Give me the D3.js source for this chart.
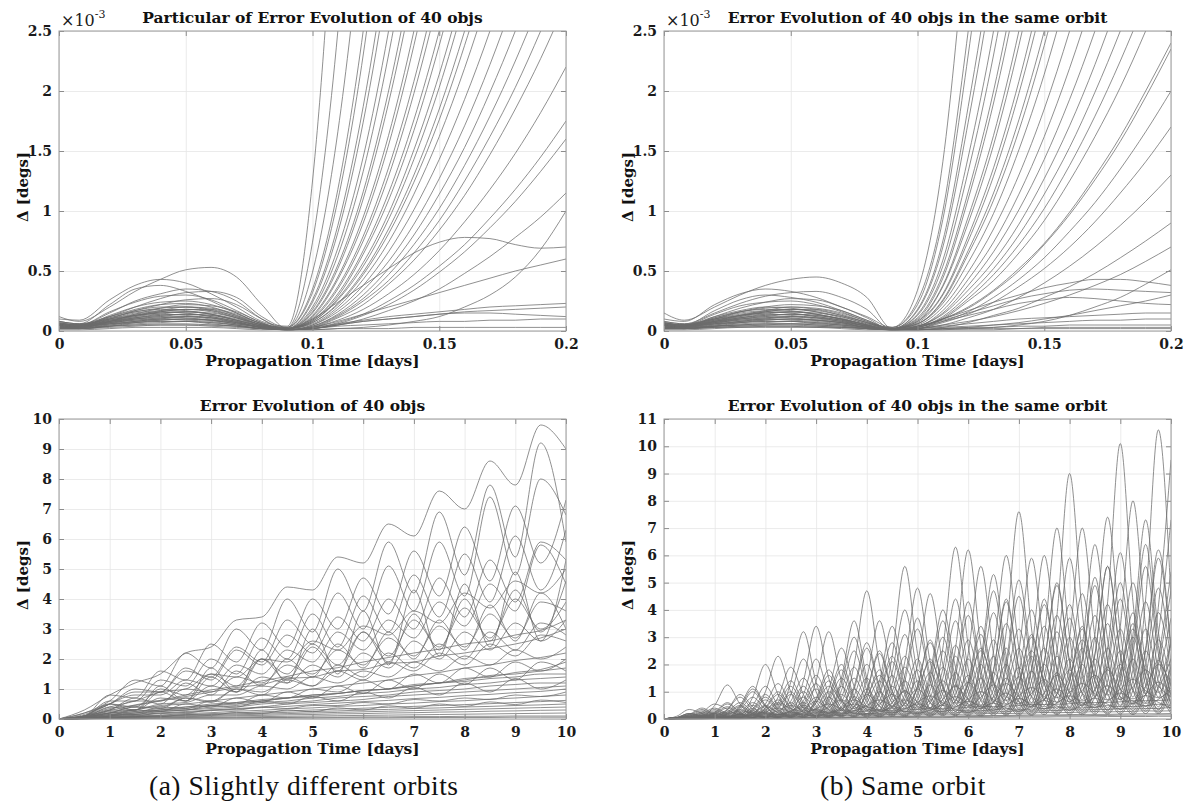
<!DOCTYPE html>
<html><head><meta charset="utf-8">
<script src="https://cdn.jsdelivr.net/npm/d3@7"></script>
<style>body{margin:0;background:#fff}svg{display:block}</style>
</head><body>
<svg id="chart" width="1189" height="811"></svg>
<script>
// ---------- time grids (days) ----------
const topDays = [0,0.008,0.02,0.03,0.04,0.05,0.06,0.07,0.08,0.09,0.1,0.11,0.12,0.13,0.14,0.15,0.16,0.17,0.18,0.19,0.2];
const blDays = [0,0.5,1,1.5,2,2.5,3,3.5,4,4.5,5,5.5,6,6.5,7,7.5,8,8.5,9,9.5,10];
const brDays = [0,0.25,0.5,0.75,1,1.25,1.5,1.75,2,2.25,2.5,2.75,3,3.25,3.5,3.75,4,4.25,4.5,4.75,5,5.25,5.5,5.75,6,6.25,6.5,6.75,7,7.25,7.5,7.75,8,8.25,8.5,8.75,9,9.25,9.5,9.75,10];

// ---------- tick values / labels ----------
const topXTicks = [0,0.05,0.1,0.15,0.2];
const topXLabels = ['0','0.05','0.1','0.15','0.2'];
const topYTicks = [0,0.5,1,1.5,2,2.5];
const topYLabels = ['0','0.5','1','1.5','2','2.5'];
const botXTicks = [0,1,2,3,4,5,6,7,8,9,10];
const botXLabels = ['0','1','2','3','4','5','6','7','8','9','10'];
const blYTicks = [0,1,2,3,4,5,6,7,8,9,10];
const blYLabels = ['0','1','2','3','4','5','6','7','8','9','10'];
const brYTicks = [0,1,2,3,4,5,6,7,8,9,10,11];
const brYLabels = ['0','1','2','3','4','5','6','7','8','9','10','11'];

// ---------- top-left: error (x1e-3 deg), t = 0 .. 0.08 ----------
const tlEarly = [
[0.12,0.08,0.2,0.33,0.43,0.51,0.53,0.45,0.22],
[0.1,0.09,0.26,0.38,0.43,0.4,0.31,0.2,0.08],
[0.08,0.06,0.22,0.35,0.38,0.33,0.25,0.15,0.06],
[0.06,0.05,0.15,0.25,0.31,0.35,0.33,0.25,0.1],
[0.05,0.04,0.12,0.2,0.27,0.32,0.33,0.28,0.12],
[0.07,0.05,0.16,0.24,0.29,0.3,0.26,0.17,0.07],
[0.04,0.03,0.1,0.17,0.22,0.26,0.27,0.22,0.1],
[0.05,0.04,0.13,0.2,0.24,0.25,0.22,0.15,0.06],
[0.06,0.05,0.12,0.18,0.22,0.23,0.2,0.13,0.05],
[0.03,0.03,0.08,0.14,0.19,0.22,0.21,0.16,0.07],
[0.05,0.04,0.11,0.16,0.19,0.2,0.18,0.12,0.05],
[0.08,0.06,0.12,0.17,0.2,0.2,0.17,0.11,0.04],
[0.03,0.03,0.08,0.13,0.17,0.2,0.19,0.14,0.06],
[0.06,0.05,0.1,0.15,0.17,0.18,0.16,0.11,0.05],
[0.04,0.04,0.09,0.13,0.16,0.18,0.17,0.12,0.05],
[0.07,0.05,0.11,0.16,0.18,0.17,0.14,0.09,0.04],
[0.05,0.04,0.08,0.12,0.16,0.18,0.18,0.13,0.06],
[0.05,0.04,0.09,0.13,0.15,0.16,0.14,0.1,0.04],
[0.06,0.05,0.1,0.14,0.16,0.15,0.12,0.08,0.03],
[0.03,0.03,0.07,0.11,0.14,0.16,0.15,0.11,0.05],
[0.08,0.06,0.1,0.13,0.15,0.16,0.14,0.09,0.04],
[0.04,0.04,0.08,0.11,0.13,0.14,0.12,0.08,0.03],
[0.06,0.05,0.09,0.12,0.14,0.13,0.11,0.07,0.03],
[0.03,0.02,0.06,0.1,0.12,0.14,0.13,0.09,0.04],
[0.05,0.04,0.08,0.11,0.13,0.14,0.13,0.09,0.04],
[0.04,0.03,0.07,0.1,0.11,0.12,0.11,0.07,0.03],
[0.06,0.05,0.08,0.1,0.12,0.11,0.09,0.06,0.03],
[0.02,0.02,0.05,0.08,0.1,0.12,0.11,0.08,0.03],
[0.05,0.04,0.07,0.09,0.11,0.12,0.1,0.07,0.03],
[0.04,0.03,0.06,0.08,0.1,0.1,0.09,0.06,0.03],
[0.06,0.05,0.07,0.09,0.1,0.09,0.08,0.05,0.02],
[0.02,0.02,0.04,0.07,0.09,0.1,0.09,0.07,0.03],
[0.05,0.04,0.06,0.08,0.09,0.1,0.09,0.06,0.03],
[0.03,0.03,0.05,0.07,0.08,0.08,0.07,0.05,0.02],
[0.05,0.04,0.06,0.07,0.08,0.08,0.06,0.04,0.02],
[0.02,0.02,0.04,0.06,0.07,0.08,0.07,0.05,0.02],
[0.03,0.02,0.04,0.05,0.05,0.05,0.04,0.03,0.02],
[0.02,0.02,0.03,0.04,0.05,0.05,0.05,0.04,0.02],
[0.01,0.01,0.02,0.03,0.03,0.03,0.03,0.02,0.01],
[0.04,0.03,0.04,0.05,0.06,0.06,0.05,0.04,0.02]
];
// ---------- top-left: t = 0.09 .. 0.2 ----------
const tlLate = [
[0.02,0.16,0.55,1.16,2.0,3.06,4.35,5.9,7.6,9.6,15,15],
[0.04,1.25,4.2,8.8,15,15,15,15,15,15,15,15],
[0.02,0.09,0.31,0.67,1.15,1.76,2.5,3.37,4.4,5.5,6.8,8.2],
[0.01,0.03,0.09,0.18,0.31,0.47,0.67,0.91,1.18,1.48,1.82,2.2],
[0.03,0.35,1.18,2.5,4.3,6.6,9.4,15,15,15,15,15],
[0.02,0.1,0.24,0.38,0.52,0.65,0.74,0.78,0.77,0.72,0.69,0.7],
[0.02,0.07,0.23,0.49,0.85,1.3,1.85,2.5,3.24,4.1,5.0,6.0],
[0.03,0.74,2.5,5.3,9.1,15,15,15,15,15,15,15],
[0.02,0.13,0.45,0.95,1.63,2.5,3.55,4.8,6.2,7.8,9.6,15],
[0.01,0.03,0.06,0.09,0.12,0.14,0.16,0.18,0.2,0.21,0.22,0.23],
[0.02,0.26,0.88,1.87,3.2,4.9,7.0,9.5,15,15,15,15],
[0.01,0.05,0.18,0.38,0.66,1.01,1.43,1.93,2.5,3.15,3.87,4.66],
[0.01,0.02,0.07,0.14,0.25,0.38,0.54,0.72,0.94,1.18,1.45,1.75],
[0.03,0.49,1.66,3.5,6.0,9.3,15,15,15,15,15,15],
[0.02,0.11,0.37,0.79,1.36,2.08,2.96,4.0,5.2,6.5,8.0,9.6],
[0.02,0.2,0.69,1.45,2.5,3.8,5.4,7.3,9.5,15,15,15],
[0.01,0.02,0.05,0.08,0.1,0.12,0.14,0.16,0.17,0.18,0.19,0.2],
[0.01,0.04,0.14,0.3,0.52,0.8,1.14,1.53,1.99,2.5,3.07,3.7],
[0.02,0.08,0.27,0.57,0.98,1.51,2.14,2.89,3.75,4.7,5.8,7.0],
[0.01,0.02,0.06,0.13,0.22,0.34,0.49,0.66,0.86,1.08,1.33,1.6],
[0.03,0.32,1.09,2.3,3.96,6.1,8.6,15,15,15,15,15],
[0.02,0.06,0.2,0.43,0.74,1.14,1.62,2.19,2.84,3.57,4.39,5.3],
[0.01,0.03,0.08,0.14,0.2,0.26,0.32,0.38,0.44,0.5,0.55,0.6],
[0.01,0.05,0.16,0.34,0.58,0.89,1.27,1.71,2.22,2.8,3.44,4.14],
[0.02,0.24,0.82,1.74,2.98,4.56,6.5,8.8,15,15,15,15],
[0.01,0.04,0.13,0.27,0.47,0.72,1.02,1.38,1.79,2.25,2.76,3.33],
[0.01,0.02,0.05,0.1,0.17,0.25,0.35,0.48,0.62,0.78,0.95,1.15],
[0.02,0.18,0.63,1.33,2.3,3.5,5.0,6.7,8.7,15,15,15],
[0.01,0.035,0.12,0.25,0.42,0.65,0.92,1.25,1.62,2.03,2.5,3.01],
[0.01,0.02,0.05,0.08,0.1,0.12,0.14,0.15,0.15,0.14,0.13,0.12],
[0.02,0.15,0.52,1.1,1.9,2.9,4.13,5.6,7.2,9.1,15,15],
[0.01,0.01,0.02,0.03,0.05,0.08,0.12,0.2,0.3,0.45,0.68,1.0],
[0.02,0.12,0.43,0.9,1.55,2.38,3.37,4.56,5.9,7.4,9.1,15],
[0.01,0.03,0.11,0.22,0.39,0.59,0.84,1.13,1.47,1.85,2.27,2.74],
[0.01,0.02,0.04,0.05,0.06,0.07,0.08,0.08,0.09,0.09,0.1,0.1],
[0.02,0.1,0.35,0.75,1.29,1.98,2.81,3.8,4.94,6.2,7.6,9.1],
[0.02,0.09,0.29,0.64,1.09,1.67,2.38,3.2,4.18,5.2,6.5,7.8],
[0.01,0.01,0.02,0.02,0.02,0.03,0.03,0.03,0.03,0.03,0.03,0.03],
[0.02,0.08,0.26,0.54,0.93,1.43,2.03,2.75,3.56,4.47,5.5,6.65],
[0.02,0.07,0.22,0.47,0.81,1.24,1.76,2.38,3.08,3.9,4.75,5.7]
];

// ---------- top-right: t = 0 .. 0.08 ----------
const trEarly = [
[0.15,0.09,0.2,0.3,0.38,0.43,0.45,0.4,0.28],
[0.1,0.08,0.22,0.31,0.35,0.33,0.28,0.2,0.12],
[0.08,0.06,0.15,0.23,0.29,0.32,0.33,0.28,0.18],
[0.07,0.05,0.17,0.26,0.3,0.28,0.24,0.17,0.09],
[0.05,0.04,0.12,0.19,0.24,0.27,0.26,0.2,0.11],
[0.06,0.05,0.14,0.21,0.24,0.25,0.22,0.16,0.08],
[0.04,0.04,0.1,0.16,0.2,0.22,0.21,0.17,0.09],
[0.05,0.04,0.11,0.16,0.19,0.2,0.18,0.13,0.07],
[0.07,0.05,0.12,0.17,0.2,0.19,0.16,0.11,0.05],
[0.03,0.03,0.08,0.13,0.17,0.2,0.19,0.15,0.08],
[0.06,0.05,0.1,0.15,0.17,0.18,0.16,0.12,0.06],
[0.04,0.04,0.09,0.13,0.16,0.18,0.17,0.13,0.07],
[0.07,0.05,0.11,0.16,0.18,0.17,0.14,0.1,0.05],
[0.05,0.04,0.08,0.12,0.16,0.18,0.18,0.14,0.07],
[0.05,0.04,0.09,0.13,0.15,0.16,0.14,0.1,0.05],
[0.06,0.05,0.1,0.14,0.16,0.15,0.12,0.09,0.04],
[0.03,0.03,0.07,0.11,0.14,0.16,0.15,0.12,0.06],
[0.08,0.06,0.1,0.13,0.15,0.16,0.14,0.1,0.05],
[0.04,0.04,0.08,0.11,0.13,0.14,0.12,0.09,0.04],
[0.06,0.05,0.09,0.12,0.14,0.13,0.11,0.08,0.04],
[0.03,0.02,0.06,0.1,0.12,0.14,0.13,0.1,0.05],
[0.05,0.04,0.08,0.11,0.13,0.14,0.13,0.1,0.05],
[0.04,0.03,0.07,0.1,0.11,0.12,0.11,0.08,0.04],
[0.06,0.05,0.08,0.1,0.12,0.11,0.09,0.07,0.03],
[0.02,0.02,0.05,0.08,0.1,0.12,0.11,0.09,0.04],
[0.05,0.04,0.07,0.09,0.11,0.12,0.1,0.08,0.04],
[0.04,0.03,0.06,0.08,0.1,0.1,0.09,0.07,0.03],
[0.06,0.05,0.07,0.09,0.1,0.09,0.08,0.06,0.03],
[0.02,0.02,0.04,0.07,0.09,0.1,0.09,0.07,0.04],
[0.05,0.04,0.06,0.08,0.09,0.1,0.09,0.07,0.03],
[0.03,0.03,0.05,0.07,0.08,0.08,0.07,0.05,0.03],
[0.05,0.04,0.06,0.07,0.08,0.08,0.06,0.05,0.02],
[0.02,0.02,0.04,0.06,0.07,0.08,0.07,0.06,0.03],
[0.03,0.02,0.04,0.05,0.06,0.06,0.05,0.04,0.02],
[0.04,0.03,0.04,0.05,0.06,0.06,0.05,0.04,0.02],
[0.02,0.02,0.03,0.04,0.05,0.06,0.06,0.05,0.03],
[0.02,0.02,0.03,0.04,0.04,0.04,0.04,0.03,0.02],
[0.03,0.02,0.03,0.03,0.04,0.04,0.03,0.03,0.02],
[0.04,0.03,0.04,0.05,0.05,0.05,0.04,0.03,0.02],
[0.01,0.01,0.02,0.03,0.03,0.03,0.03,0.02,0.01]
];
// ---------- top-right: t = 0.09 .. 0.2 ----------
const trLate = [
[0.02,0.09,0.38,0.95,1.63,2.5,3.55,4.8,6.2,7.8,9.6,15],
[0.03,0.25,1.0,2.5,4.3,6.6,9.4,15,15,15,15,15],
[0.01,0.04,0.1,0.17,0.24,0.3,0.36,0.4,0.43,0.43,0.41,0.38],
[0.02,0.06,0.23,0.57,0.98,1.51,2.14,2.89,3.75,4.7,5.8,7.0],
[0.01,0.03,0.1,0.2,0.34,0.52,0.73,0.99,1.29,1.62,2.0,2.4],
[0.02,0.14,0.59,1.45,2.5,3.8,5.4,7.3,9.5,15,15,15],
[0.02,0.04,0.17,0.43,0.74,1.14,1.62,2.19,2.84,3.57,4.39,5.3],
[0.03,0.34,1.41,3.5,6.0,9.3,15,15,15,15,15,15],
[0.01,0.01,0.02,0.02,0.03,0.05,0.08,0.13,0.2,0.28,0.39,0.51],
[0.02,0.08,0.31,0.79,1.36,2.08,2.96,4.0,5.2,6.5,8.0,9.6],
[0.02,0.18,0.75,1.87,3.2,4.9,7.0,9.5,15,15,15,15],
[0.01,0.02,0.07,0.14,0.24,0.37,0.52,0.7,0.91,1.15,1.41,1.7],
[0.01,0.04,0.14,0.34,0.58,0.89,1.27,1.71,2.22,2.8,3.44,4.14],
[0.02,0.11,0.47,1.16,2.0,3.06,4.35,5.9,7.6,9.6,15,15],
[0.01,0.04,0.09,0.15,0.21,0.27,0.31,0.34,0.35,0.34,0.33,0.32],
[0.02,0.06,0.26,0.67,1.15,1.76,2.5,3.37,4.4,5.5,6.8,8.2],
[0.03,0.22,0.93,2.3,3.96,6.1,8.6,15,15,15,15,15],
[0.01,0.02,0.05,0.11,0.18,0.28,0.4,0.54,0.7,0.88,1.08,1.3],
[0.02,0.05,0.2,0.49,0.85,1.3,1.85,2.5,3.24,4.1,5.0,6.0],
[0.01,0.03,0.11,0.27,0.47,0.72,1.02,1.38,1.79,2.25,2.76,3.33],
[0.01,0.02,0.04,0.06,0.08,0.1,0.11,0.12,0.13,0.14,0.15,0.15],
[0.02,0.13,0.54,1.33,2.3,3.5,5.0,6.7,8.7,15,15,15],
[0.01,0.03,0.1,0.19,0.33,0.5,0.72,0.97,1.26,1.58,1.95,2.35],
[0.02,0.08,0.37,0.9,1.55,2.38,3.37,4.56,5.9,7.4,9.1,15],
[0.01,0.03,0.08,0.13,0.18,0.23,0.26,0.28,0.27,0.25,0.23,0.22],
[0.01,0.04,0.15,0.38,0.66,1.01,1.43,1.93,2.5,3.15,3.87,4.66],
[0.02,0.17,0.7,1.74,2.98,4.56,6.5,8.8,15,15,15,15],
[0.01,0.01,0.03,0.07,0.13,0.19,0.28,0.37,0.48,0.61,0.75,0.9],
[0.01,0.03,0.12,0.3,0.52,0.8,1.14,1.53,1.99,2.5,3.07,3.7],
[0.02,0.1,0.44,1.1,1.9,2.9,4.13,5.6,7.2,9.1,15,15],
[0.01,0.02,0.03,0.04,0.05,0.06,0.07,0.08,0.09,0.09,0.1,0.1],
[0.01,0.02,0.08,0.16,0.28,0.43,0.61,0.83,1.07,1.35,1.66,2.0],
[0.02,0.07,0.3,0.75,1.29,1.98,2.81,3.8,4.94,6.2,7.6,9.1],
[0.01,0.02,0.1,0.25,0.42,0.65,0.92,1.25,1.62,2.03,2.5,3.01],
[0.01,0.01,0.02,0.03,0.03,0.04,0.04,0.05,0.05,0.05,0.05,0.05],
[0.01,0.02,0.05,0.08,0.12,0.17,0.23,0.3,0.38,0.47,0.58,0.7],
[0.02,0.06,0.25,0.64,1.09,1.67,2.38,3.2,4.18,5.2,6.5,7.8],
[0.01,0.01,0.01,0.02,0.02,0.02,0.03,0.03,0.03,0.03,0.03,0.03],
[0.01,0.01,0.02,0.03,0.05,0.07,0.1,0.13,0.17,0.21,0.25,0.3],
[0.01,0.01,0.01,0.01,0.01,0.02,0.02,0.02,0.02,0.02,0.02,0.02]
];

// ---------- bottom-left: error (deg) at blDays ----------
const blLines = [
[0,0.3,0.8,1.2,1.5,2.2,2.4,3.3,3.4,4.4,4.3,5.4,5.2,6.5,6.1,7.6,7.0,8.6,7.8,9.8,9.0],
[0,0.2,0.6,1.3,1.1,2.2,1.7,3.0,2.3,4.0,2.9,5.0,3.6,5.9,4.2,6.9,4.8,7.8,5.4,9.2,5.9],
[0,0.1,0.8,0.7,1.6,1.3,2.5,1.9,3.2,2.4,4.0,3.0,4.7,3.5,5.6,4.1,6.4,4.6,7.1,5.2,7.3],
[0,0.15,0.5,0.9,0.9,1.6,1.4,2.4,1.9,3.3,2.5,4.2,3.0,5.1,3.6,5.9,4.1,7.4,4.8,8.0,6.8],
[0,0.1,0.6,0.6,1.3,1.1,2.0,1.5,2.7,2.0,3.5,2.4,4.1,2.9,4.8,3.4,5.5,3.9,6.1,4.3,6.3],
[0,0.2,0.5,1.0,0.9,1.7,1.3,2.3,1.8,2.8,2.2,3.4,2.6,4.0,3.0,4.7,3.4,5.3,3.9,5.9,5.3],
[0,0.1,0.4,0.6,0.9,1.0,1.5,1.4,2.0,1.9,2.6,2.3,3.1,2.8,3.6,3.2,4.2,3.7,4.6,4.2,5.0],
[0,0.1,0.5,0.8,0.8,1.3,1.1,1.8,1.5,2.3,1.9,2.9,2.3,3.3,2.7,3.9,3.1,4.5,3.6,5.8,4.5],
[0,0.08,0.28,0.47,0.62,0.8,0.97,1.1,1.27,1.42,1.6,1.71,1.9,2.05,2.2,2.33,2.5,2.6,2.8,2.95,3.3],
[0,0.1,0.5,0.4,1.0,0.8,1.5,1.1,2.0,1.5,2.5,1.8,2.9,2.1,3.3,2.4,3.7,2.7,4.0,3.0,3.9],
[0,0.1,0.3,0.6,0.6,1.0,0.9,1.4,1.2,1.8,1.5,2.3,1.8,2.7,2.1,3.1,2.4,3.5,2.7,3.9,3.6],
[0,0.05,0.3,0.3,0.7,0.6,1.1,0.9,1.4,1.2,1.8,1.4,2.2,1.7,2.6,2.0,2.9,2.3,3.2,2.6,3.3],
[0,0.1,0.35,0.45,0.6,0.75,0.9,1.05,1.15,1.35,1.4,1.6,1.65,1.85,1.9,2.1,2.2,2.35,2.5,2.7,3.0],
[0,0.05,0.2,0.4,0.4,0.7,0.6,1.0,0.9,1.3,1.1,1.6,1.3,1.9,1.6,2.2,1.8,2.5,2.1,2.8,2.6],
[0,0.05,0.25,0.3,0.5,0.55,0.8,0.8,1.1,1.0,1.4,1.2,1.6,1.4,1.9,1.6,2.1,1.8,2.3,2.0,2.4],
[0,0.08,0.2,0.3,0.45,0.5,0.6,0.7,0.8,0.9,1.0,1.1,1.2,1.3,1.45,1.55,1.7,1.8,1.95,2.05,2.2],
[0,0.05,0.2,0.2,0.4,0.35,0.6,0.5,0.8,0.7,1.0,0.9,1.3,1.0,1.5,1.2,1.7,1.4,1.9,1.6,2.0],
[0,0.05,0.15,0.25,0.3,0.4,0.45,0.55,0.6,0.7,0.75,0.85,0.95,1.0,1.15,1.2,1.35,1.4,1.55,1.65,1.9],
[0,0.04,0.15,0.2,0.3,0.35,0.45,0.5,0.6,0.7,0.8,0.85,0.95,1.0,1.1,1.2,1.3,1.45,1.5,1.6,1.7],
[0,0.05,0.2,0.25,0.35,0.4,0.5,0.55,0.65,0.7,0.8,0.85,0.95,1.0,1.1,1.2,1.25,1.35,1.4,1.5,1.5],
[0,0.03,0.1,0.2,0.25,0.3,0.4,0.45,0.55,0.6,0.7,0.75,0.85,0.9,1.0,1.05,1.15,1.2,1.3,1.35,1.4],
[0,0.03,0.12,0.15,0.25,0.3,0.35,0.4,0.5,0.55,0.6,0.7,0.75,0.8,0.9,0.95,1.0,1.1,1.15,1.2,1.2],
[0,0.02,0.1,0.15,0.2,0.25,0.3,0.35,0.4,0.5,0.55,0.6,0.65,0.75,0.8,0.85,0.9,0.95,1.0,1.05,1.1],
[0,0.02,0.08,0.12,0.18,0.22,0.28,0.33,0.38,0.42,0.48,0.53,0.58,0.62,0.68,0.72,0.78,0.82,0.88,0.92,1.0],
[0,0.02,0.1,0.1,0.2,0.2,0.3,0.3,0.4,0.35,0.45,0.45,0.55,0.5,0.65,0.6,0.7,0.65,0.8,0.75,0.9],
[0,0.02,0.07,0.1,0.13,0.18,0.21,0.26,0.29,0.34,0.37,0.42,0.45,0.5,0.53,0.58,0.61,0.66,0.7,0.75,0.8],
[0,0.02,0.06,0.08,0.12,0.14,0.18,0.2,0.24,0.27,0.3,0.33,0.36,0.39,0.42,0.45,0.48,0.51,0.55,0.58,0.62],
[0,0.02,0.05,0.07,0.1,0.12,0.15,0.17,0.2,0.22,0.25,0.27,0.3,0.32,0.35,0.37,0.4,0.42,0.45,0.47,0.5],
[0,0.01,0.04,0.06,0.08,0.1,0.12,0.14,0.16,0.18,0.2,0.22,0.24,0.26,0.28,0.3,0.32,0.34,0.36,0.38,0.4],
[0,0.01,0.03,0.05,0.06,0.08,0.09,0.11,0.12,0.14,0.15,0.17,0.18,0.2,0.21,0.23,0.24,0.26,0.27,0.29,0.3],
[0,0.01,0.02,0.03,0.04,0.05,0.06,0.07,0.08,0.09,0.1,0.11,0.12,0.13,0.14,0.15,0.16,0.17,0.18,0.19,0.2],
[0,0.01,0.02,0.02,0.03,0.03,0.04,0.04,0.05,0.05,0.06,0.06,0.07,0.07,0.08,0.08,0.09,0.09,0.1,0.1,0.1],
[0,0.1,0.5,0.3,1.1,0.6,1.7,0.9,2.3,1.2,3.0,1.5,3.6,1.8,4.3,2.1,4.5,2.4,4.9,2.6,5.3],
[0,0.05,0.4,0.3,0.9,0.6,1.4,0.9,2.0,1.3,2.4,1.6,2.9,1.9,3.5,2.3,4.0,2.6,4.3,2.9,4.6],
[0,0.1,0.3,0.7,0.5,1.2,0.8,1.6,1.1,2.0,1.4,2.5,1.7,2.9,2.0,3.3,2.3,3.8,2.6,4.2,3.0],
[0,0.05,0.2,0.4,0.35,0.7,0.55,1.0,0.8,1.4,1.1,1.8,1.4,2.2,1.7,2.5,2.0,2.9,2.3,3.2,2.8],
[0,0.02,0.1,0.3,0.25,0.5,0.4,0.7,0.55,0.9,0.7,1.1,0.85,1.3,1.0,1.5,1.15,1.7,1.3,1.9,1.6],
[0,0.02,0.15,0.15,0.3,0.3,0.45,0.4,0.6,0.5,0.75,0.6,0.9,0.7,1.05,0.8,1.2,0.9,1.35,1.0,1.3],
[0,0.01,0.03,0.08,0.08,0.15,0.13,0.22,0.18,0.3,0.24,0.37,0.3,0.44,0.36,0.5,0.42,0.57,0.48,0.63,0.55],
[0,0.01,0.01,0.01,0.02,0.02,0.02,0.03,0.03,0.03,0.03,0.04,0.04,0.04,0.05,0.05,0.05,0.05,0.06,0.06,0.06]
];

// ---------- bottom-right: error (deg) at brDays ----------
const brLines = [
[0,0.05,0.1,0.25,0.55,0.35,0.15,0.8,2.0,0.9,0.2,1.4,3.4,1.5,0.3,2.0,4.7,2.0,0.4,2.1,4.8,2.1,0.5,2.6,6.2,2.7,0.6,3.2,7.6,3.3,0.7,3.8,9.0,3.9,0.8,4.3,10.1,4.3,0.9,4.1,9.5],
[0,0.02,0.12,0.3,0.15,0.05,0.4,1.0,0.45,0.1,0.9,2.2,1.0,0.2,1.3,3.0,1.3,0.3,2.3,5.6,2.4,0.4,2.6,6.3,2.7,0.5,2.5,6.0,2.6,0.6,3.0,7.0,3.0,0.7,3.1,7.4,3.2,0.8,4.4,10.6,4.4],
[0,0.1,0.35,0.2,0.05,0.35,0.9,0.45,0.1,0.8,1.9,0.9,0.2,1.1,2.6,1.2,0.3,1.4,3.4,1.5,0.35,1.7,4.0,1.9,0.45,2.2,5.3,2.3,0.5,2.5,6.0,2.6,0.6,2.7,6.4,2.9,0.7,3.1,7.3,3.2,0.8],
[0,0.05,0.2,0.1,0.5,1.25,0.55,0.15,1.0,2.3,1.0,0.25,1.4,3.2,1.4,0.3,1.5,3.6,1.6,0.4,2.0,4.6,2.0,0.5,2.4,5.6,2.4,0.55,2.5,5.9,2.6,0.6,3.0,7.0,3.0,0.7,3.4,8.0,3.4,0.8,3.0],
[0,0.05,0.05,0.2,0.4,0.2,0.1,0.5,1.2,0.5,0.15,0.9,2.2,0.9,0.2,1.2,2.8,1.2,0.3,1.6,3.7,1.6,0.35,1.8,4.3,1.8,0.4,2.1,5.1,2.2,0.5,2.5,5.9,2.5,0.5,2.6,6.1,2.6,0.6,3.1,7.3],
[0,0.02,0.1,0.25,0.12,0.05,0.45,1.1,0.5,0.1,0.65,1.5,0.65,0.15,1.05,2.5,1.05,0.2,1.3,3.1,1.3,0.3,1.5,3.6,1.5,0.35,1.8,4.4,1.9,0.4,2.1,4.9,2.1,0.45,2.4,5.6,2.4,0.5,2.6,6.2,2.6],
[0,0.05,0.2,0.12,0.05,0.35,0.8,0.35,0.08,0.6,1.4,0.6,0.12,0.85,2.0,0.85,0.18,1.0,2.3,1.0,0.22,1.3,3.0,1.3,0.3,1.6,3.9,1.7,0.35,1.8,4.2,1.8,0.4,2.1,4.9,2.1,0.45,2.4,5.6,2.4,0.5],
[0,0.05,0.08,0.05,0.25,0.6,0.25,0.07,0.55,1.3,0.55,0.12,0.7,1.6,0.7,0.18,1.0,2.4,1.0,0.22,1.2,2.8,1.2,0.28,1.4,3.4,1.4,0.32,1.7,4.0,1.7,0.38,1.9,4.6,1.9,0.4,2.1,5.0,2.1,0.45,2.0],
[0,0.02,0.07,0.15,0.08,0.04,0.26,0.6,0.26,0.08,0.5,1.2,0.5,0.12,0.8,1.9,0.8,0.17,1.0,2.3,1.0,0.22,1.15,2.7,1.15,0.26,1.5,3.5,1.5,0.3,1.6,3.8,1.6,0.35,1.8,4.2,1.8,0.4,2.0,4.8,2.0],
[0,0.04,0.04,0.13,0.3,0.13,0.05,0.38,0.9,0.38,0.08,0.55,1.3,0.55,0.12,0.85,2.0,0.85,0.16,0.9,2.2,0.9,0.2,1.2,2.9,1.2,0.24,1.4,3.3,1.4,0.28,1.55,3.7,1.55,0.32,1.85,4.4,1.85,0.36,2.0,4.7],
[0,0.04,0.15,0.08,0.03,0.22,0.5,0.22,0.06,0.5,1.2,0.5,0.1,0.65,1.5,0.65,0.14,0.9,2.1,0.9,0.18,1.05,2.5,1.05,0.22,1.2,2.9,1.2,0.26,1.4,3.4,1.4,0.3,1.6,3.8,1.6,0.34,1.8,4.3,1.8,0.38],
[0,0.06,0.06,0.04,0.23,0.55,0.23,0.06,0.38,0.9,0.38,0.09,0.6,1.4,0.6,0.13,0.75,1.8,0.75,0.16,0.9,2.2,0.9,0.2,1.1,2.6,1.1,0.23,1.3,3.1,1.3,0.26,1.4,3.4,1.4,0.3,1.6,3.9,1.6,0.33,1.7],
[0,0.05,0.17,0.4,0.17,0.05,0.34,0.8,0.34,0.07,0.42,1.0,0.42,0.1,0.63,1.5,0.63,0.14,0.8,1.9,0.8,0.18,0.95,2.3,0.95,0.21,1.1,2.6,1.1,0.25,1.35,3.2,1.35,0.28,1.45,3.5,1.45,0.31,1.6,3.9,1.6],
[0,0.05,0.05,0.15,0.35,0.15,0.05,0.3,0.7,0.3,0.07,0.46,1.1,0.46,0.1,0.63,1.5,0.63,0.13,0.75,1.8,0.75,0.16,0.92,2.2,0.92,0.2,1.1,2.6,1.1,0.22,1.25,3.0,1.25,0.25,1.4,3.3,1.4,0.28,1.55,3.7],
[0,0.05,0.2,0.1,0.03,0.19,0.45,0.19,0.05,0.38,0.9,0.38,0.08,0.5,1.2,0.5,0.11,0.67,1.6,0.67,0.14,0.8,1.9,0.8,0.17,0.97,2.3,0.97,0.2,1.1,2.6,1.1,0.22,1.25,3.0,1.25,0.25,1.4,3.3,1.4,0.28],
[0,0.04,0.04,0.03,0.17,0.4,0.17,0.05,0.3,0.7,0.3,0.07,0.42,1.0,0.42,0.1,0.6,1.4,0.6,0.12,0.7,1.7,0.7,0.15,0.85,2.0,0.85,0.17,0.97,2.3,0.97,0.2,1.1,2.6,1.1,0.22,1.25,3.0,1.25,0.25,1.3],
[0,0.03,0.08,0.2,0.09,0.03,0.21,0.5,0.21,0.05,0.34,0.8,0.34,0.08,0.46,1.1,0.46,0.1,0.6,1.4,0.6,0.13,0.72,1.7,0.72,0.15,0.84,2.0,0.84,0.17,0.97,2.3,0.97,0.2,1.1,2.6,1.1,0.22,1.2,2.9,1.2],
[0,0.03,0.02,0.09,0.2,0.09,0.03,0.21,0.5,0.21,0.05,0.34,0.8,0.34,0.08,0.46,1.1,0.46,0.1,0.6,1.4,0.6,0.12,0.67,1.6,0.67,0.14,0.8,1.9,0.8,0.16,0.92,2.2,0.92,0.18,1.05,2.5,1.05,0.2,1.2,2.8],
[0,0.03,0.1,0.05,0.02,0.15,0.35,0.15,0.04,0.25,0.6,0.25,0.06,0.38,0.9,0.38,0.08,0.5,1.2,0.5,0.1,0.6,1.4,0.6,0.12,0.7,1.7,0.7,0.14,0.84,2.0,0.84,0.16,0.92,2.2,0.92,0.18,1.05,2.5,1.05,0.2],
[0,0.04,0.03,0.02,0.13,0.3,0.13,0.04,0.23,0.55,0.23,0.06,0.34,0.8,0.34,0.08,0.42,1.0,0.42,0.1,0.52,1.25,0.52,0.12,0.63,1.5,0.63,0.14,0.73,1.75,0.73,0.16,0.84,2.0,0.84,0.18,0.92,2.2,0.92,0.2,1.0],
[0,0.02,0.06,0.15,0.06,0.02,0.16,0.38,0.16,0.04,0.25,0.6,0.25,0.06,0.34,0.82,0.34,0.08,0.44,1.05,0.44,0.1,0.52,1.25,0.52,0.11,0.63,1.5,0.63,0.13,0.71,1.7,0.71,0.15,0.8,1.9,0.8,0.16,0.9,2.15,0.9],
[0,0.03,0.04,0.1,0.2,0.1,0.09,0.22,0.45,0.25,0.15,0.33,0.65,0.35,0.21,0.45,0.9,0.48,0.27,0.56,1.1,0.6,0.33,0.68,1.35,0.72,0.39,0.8,1.55,0.84,0.45,0.92,1.8,0.96,0.51,1.02,2.0,1.06,0.57,1.12,2.2],
[0,0.03,0.1,0.08,0.08,0.16,0.3,0.2,0.16,0.3,0.5,0.32,0.24,0.44,0.7,0.45,0.32,0.56,0.9,0.58,0.4,0.68,1.05,0.7,0.48,0.8,1.25,0.82,0.56,0.94,1.45,0.95,0.64,1.05,1.6,1.06,0.72,1.18,1.8,1.2,0.8],
[0,0.05,0.05,0.06,0.14,0.25,0.16,0.14,0.26,0.4,0.26,0.22,0.38,0.55,0.37,0.3,0.5,0.7,0.48,0.38,0.62,0.85,0.6,0.46,0.74,1.0,0.7,0.54,0.86,1.15,0.82,0.62,0.98,1.3,0.93,0.7,1.1,1.45,1.04,0.78,1.15],
[0,0.02,0.06,0.12,0.08,0.08,0.2,0.3,0.2,0.14,0.28,0.42,0.28,0.2,0.37,0.55,0.37,0.26,0.47,0.7,0.47,0.32,0.55,0.82,0.55,0.38,0.64,0.95,0.64,0.44,0.74,1.1,0.74,0.5,0.82,1.22,0.82,0.56,0.9,1.35,0.9],
[0,0.03,0.03,0.08,0.15,0.09,0.08,0.15,0.25,0.16,0.13,0.22,0.35,0.23,0.18,0.3,0.45,0.3,0.23,0.37,0.55,0.37,0.28,0.44,0.65,0.44,0.33,0.51,0.75,0.51,0.38,0.58,0.85,0.58,0.43,0.65,0.95,0.65,0.48,0.72,1.05],
[0,0.02,0.05,0.05,0.04,0.09,0.15,0.11,0.08,0.15,0.23,0.16,0.12,0.21,0.32,0.22,0.16,0.27,0.4,0.28,0.2,0.34,0.5,0.35,0.24,0.4,0.58,0.41,0.28,0.47,0.68,0.48,0.32,0.53,0.76,0.54,0.36,0.6,0.86,0.61,0.4],
[0,0.02,0.04,0.05,0.07,0.1,0.11,0.12,0.14,0.17,0.18,0.19,0.21,0.25,0.25,0.26,0.28,0.32,0.32,0.33,0.35,0.39,0.39,0.4,0.42,0.46,0.46,0.47,0.49,0.53,0.53,0.54,0.56,0.6,0.6,0.61,0.63,0.67,0.67,0.68,0.7],
[0,0.01,0.02,0.05,0.05,0.06,0.08,0.11,0.1,0.11,0.13,0.17,0.15,0.16,0.18,0.22,0.2,0.21,0.23,0.28,0.25,0.26,0.28,0.33,0.3,0.31,0.33,0.38,0.35,0.36,0.38,0.44,0.4,0.41,0.43,0.49,0.45,0.46,0.48,0.54,0.5],
[0,0.01,0.02,0.03,0.05,0.05,0.06,0.07,0.1,0.09,0.1,0.11,0.14,0.13,0.14,0.15,0.18,0.17,0.18,0.19,0.22,0.21,0.22,0.23,0.26,0.25,0.26,0.27,0.3,0.29,0.3,0.31,0.34,0.33,0.34,0.35,0.38,0.37,0.38,0.39,0.42],
[0,0.01,0.02,0.02,0.03,0.04,0.06,0.05,0.06,0.07,0.09,0.08,0.09,0.1,0.12,0.11,0.12,0.13,0.15,0.14,0.15,0.16,0.18,0.17,0.18,0.19,0.21,0.2,0.21,0.22,0.24,0.23,0.24,0.25,0.27,0.26,0.27,0.28,0.3,0.29,0.3],
[0,0.01,0.01,0.01,0.02,0.03,0.03,0.03,0.04,0.05,0.05,0.05,0.06,0.07,0.07,0.07,0.08,0.09,0.09,0.09,0.1,0.11,0.11,0.11,0.12,0.13,0.13,0.13,0.14,0.15,0.15,0.15,0.16,0.17,0.17,0.17,0.18,0.19,0.19,0.19,0.2],
[0,0,0.01,0.01,0.02,0.02,0.02,0.03,0.03,0.03,0.04,0.04,0.05,0.05,0.05,0.06,0.06,0.06,0.07,0.07,0.08,0.08,0.08,0.09,0.09,0.09,0.1,0.1,0.11,0.11,0.11,0.12,0.12,0.12,0.13,0.13,0.14,0.14,0.14,0.15,0.15],
[0,0.05,0.05,0.04,0.2,0.45,0.2,0.07,0.42,1.0,0.42,0.12,0.75,1.8,0.75,0.2,1.05,2.5,1.05,0.25,1.2,2.9,1.2,0.28,1.3,3.1,1.3,0.3,1.25,3.0,1.3,0.32,1.4,3.3,1.4,0.34,1.5,3.5,1.5,0.36,1.5],
[0,0.03,0.15,0.35,0.15,0.05,0.5,1.2,0.5,0.15,1.35,3.2,1.35,0.3,1.5,3.6,1.5,0.35,1.7,4.0,1.7,0.4,1.85,4.4,1.85,0.4,1.8,4.3,1.8,0.45,2.1,5.0,2.1,0.5,2.35,5.6,2.35,0.55,2.5,5.9,2.5],
[0,0.03,0.03,0.1,0.25,0.1,0.05,0.34,0.8,0.34,0.1,0.67,1.6,0.67,0.15,1.1,2.6,1.1,0.2,1.4,3.3,1.4,0.25,1.6,3.8,1.6,0.3,1.9,4.5,1.9,0.35,1.75,4.2,1.75,0.4,2.1,5.0,2.1,0.45,2.25,5.4],
[0,0.04,0.15,0.08,0.04,0.26,0.6,0.26,0.08,0.42,1.0,0.42,0.14,0.75,1.8,0.75,0.2,1.2,2.8,1.2,0.28,1.5,3.6,1.5,0.35,2.0,4.7,2.0,0.4,1.85,4.4,1.85,0.45,2.2,5.2,2.2,0.5,2.7,6.4,2.7,0.55],
[0,0.02,0.05,0.1,0.08,0.1,0.15,0.25,0.2,0.18,0.3,0.5,0.32,0.26,0.42,0.7,0.45,0.34,0.6,1.0,0.62,0.42,0.72,1.2,0.72,0.5,0.8,1.3,0.82,0.58,0.95,1.6,0.98,0.66,1.08,1.8,1.1,0.74,1.2,2.0,1.25],
[0,0,0,0.01,0.01,0.01,0.01,0.02,0.02,0.02,0.02,0.03,0.03,0.03,0.03,0.04,0.04,0.04,0.04,0.05,0.05,0.05,0.05,0.06,0.06,0.06,0.06,0.07,0.07,0.07,0.07,0.08,0.08,0.08,0.08,0.09,0.09,0.09,0.09,0.1,0.1],
[0,0.05,0.05,0.07,0.12,0.2,0.15,0.17,0.33,0.6,0.38,0.28,0.6,1.2,0.65,0.38,0.85,1.6,0.9,0.48,1.1,2.1,1.15,0.58,1.3,2.5,1.35,0.68,1.35,2.5,1.4,0.78,1.55,2.9,1.6,0.88,1.75,3.3,1.8,0.98,1.9]
];

// ---------- titles / labels ----------
const titles = ['Particular of Error Evolution of 40 objs','Error Evolution of 40 objs in the same orbit','Error Evolution of 40 objs','Error Evolution of 40 objs in the same orbit'];
const xLabelText = 'Propagation Time [days]';
const yLabelText = '\u0394 [degs]';
const captions = ['(a) Slightly different orbits','(b) Same orbit'];

// ---------- drawing ----------
const svg = d3.select('#chart');
const SERIF = "'DejaVu Serif', serif";
const panels = [
  {id:'tl', left:59, right:566, top:31, bottom:331, xd:[0,0.2], yd:[0,2.5], xt:topXTicks, xl:topXLabels, yt:topYTicks, yl:topYLabels, days:topDays, lines:tlEarly.map((e,i)=>e.concat(tlLate[i])), title:titles[0], mult:true},
  {id:'tr', left:664, right:1171, top:31, bottom:331, xd:[0,0.2], yd:[0,2.5], xt:topXTicks, xl:topXLabels, yt:topYTicks, yl:topYLabels, days:topDays, lines:trEarly.map((e,i)=>e.concat(trLate[i])), title:titles[1], mult:true},
  {id:'bl', left:59, right:566, top:419, bottom:719, xd:[0,10], yd:[0,10], xt:botXTicks, xl:botXLabels, yt:blYTicks, yl:blYLabels, days:blDays, lines:blLines, title:titles[2], mult:false},
  {id:'br', left:664, right:1171, top:419, bottom:719, xd:[0,10], yd:[0,11], xt:botXTicks, xl:botXLabels, yt:brYTicks, yl:brYLabels, days:brDays, lines:brLines, title:titles[3], mult:false}
];

const defs = svg.append('defs');

panels.forEach(p => {
  const x = d3.scaleLinear().domain(p.xd).range([p.left, p.right]);
  const y = d3.scaleLinear().domain(p.yd).range([p.bottom, p.top]);
  const W = p.right - p.left, H = p.bottom - p.top;
  const g = svg.append('g').attr('class', 'panel-' + p.id);

  // grid
  g.append('g').attr('transform', `translate(0,${p.bottom})`)
    .call(d3.axisBottom(x).tickValues(p.xt).tickSize(-H).tickFormat(''))
    .call(s => { s.select('.domain').remove(); s.selectAll('line').attr('stroke', '#e6e6e6').attr('stroke-width', 0.8); });
  g.append('g').attr('transform', `translate(${p.left},0)`)
    .call(d3.axisLeft(y).tickValues(p.yt).tickSize(-W).tickFormat(''))
    .call(s => { s.select('.domain').remove(); s.selectAll('line').attr('stroke', '#e6e6e6').attr('stroke-width', 0.8); });

  // clip
  defs.append('clipPath').attr('id', 'clip-' + p.id).append('rect')
    .attr('x', p.left).attr('y', p.top).attr('width', W).attr('height', H + 1);

  const line = d3.line().x(d => x(d[0])).y(d => y(d[1])).curve(d3.curveMonotoneX);
  g.append('g').attr('clip-path', `url(#clip-${p.id})`)
    .selectAll('path').data(p.lines).join('path')
    .attr('d', vals => line(vals.map((v, i) => [p.days[i], v]).filter(d => d[0] != null)))
    .attr('fill', 'none').attr('stroke', '#6b6b6b').attr('stroke-width', 0.75);

  // axes (MATLAB style: inward ticks on all sides)
  const styleAxis = s => {
    s.select('.domain').remove();
    s.selectAll('line').attr('stroke', '#8c8c8c');
    s.selectAll('text').attr('font-family', SERIF).attr('font-weight', 'bold').attr('font-size', 14).attr('fill', '#1a1a1a');
  };
  g.append('g').attr('transform', `translate(0,${p.bottom})`)
    .call(d3.axisBottom(x).tickValues(p.xt).tickFormat((d, i) => p.xl[i]).tickSizeInner(-5).tickSizeOuter(0).tickPadding(8))
    .call(styleAxis);
  g.append('g').attr('transform', `translate(${p.left},0)`)
    .call(d3.axisLeft(y).tickValues(p.yt).tickFormat((d, i) => p.yl[i]).tickSizeInner(-5).tickSizeOuter(0).tickPadding(7))
    .call(styleAxis);
  g.append('g').attr('transform', `translate(0,${p.top})`)
    .call(d3.axisTop(x).tickValues(p.xt).tickFormat('').tickSizeInner(-5).tickSizeOuter(0))
    .call(styleAxis);
  g.append('g').attr('transform', `translate(${p.right},0)`)
    .call(d3.axisRight(y).tickValues(p.yt).tickFormat('').tickSizeInner(-5).tickSizeOuter(0))
    .call(styleAxis);

  g.append('rect').attr('x', p.left).attr('y', p.top).attr('width', W).attr('height', H)
    .attr('fill', 'none').attr('stroke', '#9a9a9a').attr('stroke-width', 1);

  // title
  g.append('text').attr('x', (p.left + p.right) / 2).attr('y', p.top - 8)
    .attr('text-anchor', 'middle').attr('font-family', SERIF).attr('font-weight', 'bold')
    .attr('font-size', 15.5).attr('fill', '#111').text(p.title);
  // x label
  g.append('text').attr('x', (p.left + p.right) / 2).attr('y', p.bottom + 35)
    .attr('text-anchor', 'middle').attr('font-family', SERIF).attr('font-weight', 'bold')
    .attr('font-size', 15.5).attr('fill', '#111').text(xLabelText);
  // y label
  g.append('text').attr('transform', `translate(${p.left - 31},${(p.top + p.bottom) / 2 + 6}) rotate(-90)`)
    .attr('text-anchor', 'middle').attr('font-family', SERIF).attr('font-weight', 'bold')
    .attr('font-size', 15).attr('fill', '#111').text(yLabelText);

  // exponent multiplier
  if (p.mult) {
    const m = g.append('text').attr('x', p.left + 2).attr('y', p.top - 5)
      .attr('font-family', SERIF).attr('font-size', 16).attr('fill', '#1a1a1a');
    m.append('tspan').text('\u00d710');
    m.append('tspan').attr('dy', -8).attr('font-size', 11).text('-3');
  }
});

// sub-figure captions
const capFont = "'Liberation Serif', 'Times New Roman', serif";
svg.append('text').attr('x', 149).attr('y', 795).attr('font-family', capFont)
  .attr('font-size', 27.5).attr('letter-spacing', 0.5).attr('fill', '#111').text(captions[0]);
svg.append('text').attr('x', 820).attr('y', 795).attr('font-family', capFont)
  .attr('font-size', 27.5).attr('letter-spacing', 0.5).attr('fill', '#111').text(captions[1]);
</script>
</body></html>
